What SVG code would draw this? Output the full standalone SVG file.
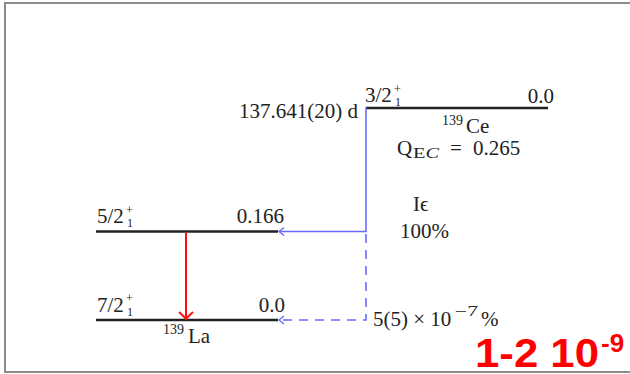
<svg xmlns="http://www.w3.org/2000/svg" width="630" height="374" viewBox="0 0 630 374">
<style>
.t{font-family:"Liberation Serif","DejaVu Serif",serif;font-size:21px;fill:#222}
.s{font-size:14px}
.ss{font-size:12px}
.lvl{stroke:#222;stroke-width:2.5;fill:none}
.blue{stroke:#6a6aff;stroke-width:1.6;fill:none}
.dash{stroke-dasharray:9 7}
.red{stroke:#ff1010;stroke-width:2;fill:none}
.big{font-family:"Liberation Sans",Arial,sans-serif;font-weight:bold;fill:#ff0000}
</style>
<defs>
<marker id="ab" markerWidth="12" markerHeight="12" refX="0" refY="0" viewBox="-8 -6 10 12" markerUnits="userSpaceOnUse" orient="auto">
<path d="M-5,-4 Q-1.5,-1 0,0 Q-1.5,1 -5,4" fill="none" stroke="#6a6aff" stroke-width="1.4"/>
</marker>
<marker id="ar" markerWidth="18" markerHeight="18" refX="0" refY="0" viewBox="-9 -9 11 18" markerUnits="userSpaceOnUse" orient="auto">
<path d="M-7,-7 Q-2,-1.5 0,0 Q-2,1.5 -7,7" fill="none" stroke="#ff1010" stroke-width="2"/>
</marker>
</defs>
<rect x="5" y="3" width="700" height="369" fill="#fff" stroke="#8c8c8c" stroke-width="2"/>

<g id="ce139">
<line class="lvl" x1="366" y1="108" x2="548" y2="108"/>
<text class="t" x="365" y="102">3/2</text>
<text class="t ss" x="394" y="92.5">+</text>
<text class="t ss" x="395" y="106.2">1</text>
<text class="t" x="554" y="103" text-anchor="end">0.0</text>
<text class="t" x="358" y="118" text-anchor="end">137.641(20) d</text>
<text class="t s" x="442" y="125">139</text>
<text class="t" x="466" y="133">Ce</text>
<text class="t" x="397" y="155">Q</text>
<text class="t s" x="413" y="158" textLength="26" lengthAdjust="spacingAndGlyphs">E<tspan font-style="italic">C</tspan></text>
<text class="t" x="450" y="155">=</text>
<text class="t" x="473" y="155">0.265</text>
</g>

<g id="la139-52">
<line class="lvl" x1="96" y1="231.5" x2="278" y2="231.5"/>
<text class="t" x="97" y="223">5/2</text>
<text class="t ss" x="126" y="213.5">+</text>
<text class="t ss" x="127" y="227.2">1</text>
<text class="t" x="284" y="223" text-anchor="end">0.166</text>
</g>

<g id="la139-72">
<line class="lvl" x1="96" y1="320" x2="278" y2="320"/>
<text class="t" x="97" y="312">7/2</text>
<text class="t ss" x="126" y="302">+</text>
<text class="t ss" x="127" y="315.7">1</text>
<text class="t" x="285" y="312" text-anchor="end">0.0</text>
<text class="t s" x="163" y="334">139</text>
<text class="t" x="188" y="343">La</text>
</g>

<g id="decay-labels">
<text class="t" x="413" y="211">Iϵ</text>
<text class="t" x="400" y="238">100%</text>
<text class="t" x="373" y="326">5(5) × 10</text>
<text class="t s" x="455" y="316" textLength="23" lengthAdjust="spacingAndGlyphs">−7</text>
<text class="t" x="481" y="326">%</text>
</g>

<g id="note">
<text class="big" x="475" y="367" font-size="40" textLength="124" lengthAdjust="spacingAndGlyphs">1-2 10</text>
<text class="big" x="601" y="352" font-size="26">-9</text>
</g>

<g id="connectors">
<path class="blue" d="M366,107 V231.5 H279" marker-end="url(#ab)"/>
<path class="blue dash" d="M366,234 V320 H279" marker-end="url(#ab)"/>
<path class="red" d="M186,232.5 V319" marker-end="url(#ar)"/>
</g>
</svg>
